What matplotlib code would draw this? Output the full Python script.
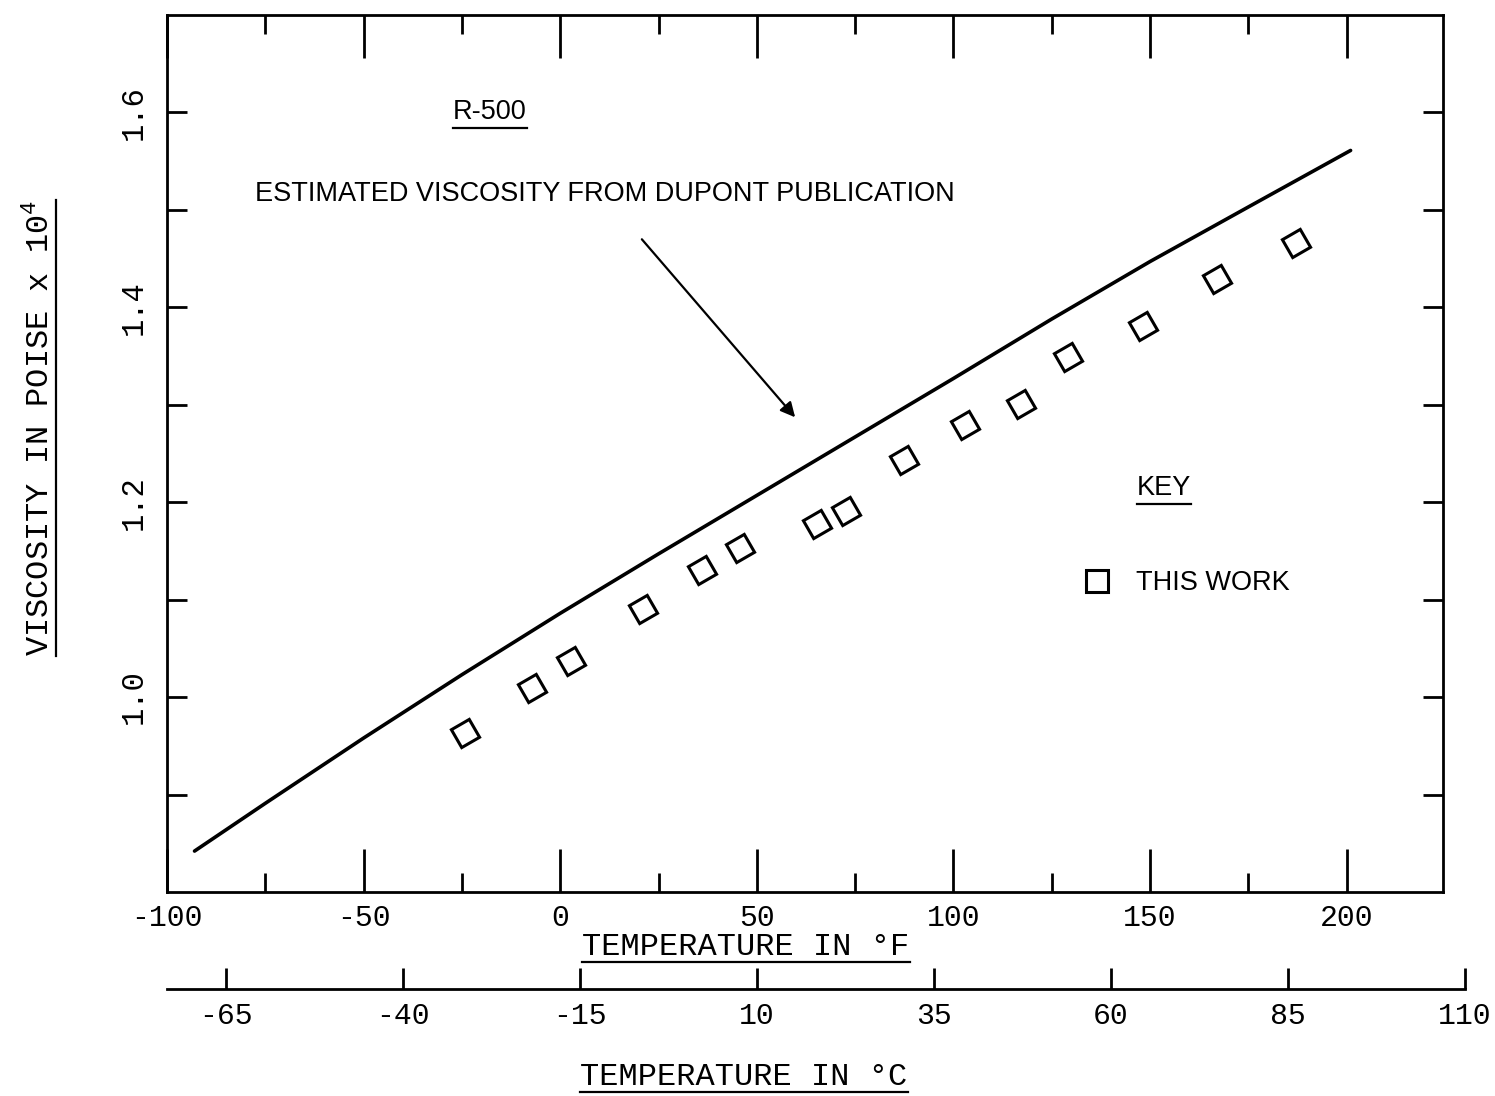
import matplotlib
matplotlib.use('Agg')
import matplotlib.pyplot as plt
from matplotlib.lines import Line2D
import numpy as np

plt.rcParams['font.family'] = ['Liberation Mono', 'DejaVu Sans Mono']
plt.rcParams['mathtext.fontset'] = 'custom'
plt.rcParams['mathtext.rm'] = 'Liberation Mono'
plt.rcParams['axes.unicode_minus'] = False

# --- data ---
# DuPont estimate, solid line
dupont_temp_f = [-93, -75, -50, -25, 0, 25, 50, 75, 100, 125, 150, 175, 201]
dupont_visc = [0.842, 0.891, 0.958, 1.023, 1.086, 1.147, 1.207, 1.267, 1.327, 1.388, 1.447, 1.503, 1.561]

# measured points ("this work")
work_temp_f = [-24.2, -7.2, 2.7, 21.0, 36.0, 45.7, 65.3, 72.6, 87.4, 102.9, 117.1, 129.1, 148.2, 167.0, 187.1]
work_visc = [0.963, 1.009, 1.037, 1.090, 1.130, 1.153, 1.178, 1.191, 1.243, 1.279, 1.301, 1.349, 1.381, 1.429, 1.466]

f_ticks = [-100, -50, 0, 50, 100, 150, 200]
f_tick_labels = ['-100', '-50', '0', '50', '100', '150', '200']
f_minor = [-75, -25, 25, 75, 125, 175]
visc_ticks = [0.9, 1.0, 1.1, 1.2, 1.3, 1.4, 1.5, 1.6]
visc_tick_labels = ['', '1.0', '', '1.2', '', '1.4', '', '1.6']
c_ticks = [-65, -40, -15, 10, 35, 60, 85, 110]
c_tick_labels = ['-65', '-40', '-15', '10', '35', '60', '85', '110']

narrow = ['Liberation Sans Narrow', 'Liberation Sans', 'DejaVu Sans']

W, H = 1495, 1096
fig = plt.figure(figsize=(W / 100, H / 100), dpi=100)
ax = fig.add_axes([167 / W, 1 - 892 / H, (1443 - 167) / W, (892 - 15) / H])

f_lo, f_hi = -100, 224.5
ax.set_xlim(f_lo, f_hi)
ax.set_ylim(0.8, 1.7)

ax.plot(dupont_temp_f, dupont_visc, color='black', lw=2.6, solid_capstyle='round')
ax.plot(work_temp_f, work_visc, linestyle='none', marker=(4, 0, 75), ms=21,
        mfc='none', mec='black', mew=2.2)

# axes frame and ticks
for s in ax.spines.values():
    s.set_linewidth(2)
ax.set_xticks(f_ticks)
ax.set_xticklabels(f_tick_labels)
ax.set_xticks(f_minor, minor=True)
ax.set_yticks(visc_ticks)
ax.set_yticklabels(visc_tick_labels)
ax.tick_params(axis='x', which='major', direction='in', length=31, width=2,
               top=True, labelsize=21.5, pad=9)
ax.tick_params(axis='x', which='minor', direction='in', length=14, width=2, top=True)
ax.tick_params(axis='y', direction='in', length=14.5, width=2, right=True,
               labelsize=22, labelrotation=90, pad=13)
for lab in ax.get_yticklabels():
    lab.set_va('center')

# annotations
t_r500 = ax.text(-17.9, 1.60, 'R-500', family=narrow, fontsize=19.5, ha='center', va='center')
ax.text(-77.5, 1.516, 'ESTIMATED VISCOSITY FROM DUPONT PUBLICATION', family=narrow,
        fontsize=19.5, ha='left', va='center')
ax.annotate('', xy=(60.2, 1.285), xytext=(20.3, 1.472),
            arrowprops=dict(arrowstyle='-|>', color='black', lw=1.6, mutation_scale=22))
t_key = ax.text(153.6, 1.215, 'KEY', family=narrow, fontsize=19.5, ha='center', va='center')

key_handle = Line2D([], [], linestyle='none', marker='s', ms=15.5, mfc='none',
                    mec='black', mew=2.2)
leg = ax.legend([key_handle], ['THIS WORK'], loc='center left',
                bbox_to_anchor=((1083 - 167) / 1276, (892 - 583) / 877),
                frameon=False, handlelength=1.0, handletextpad=0.95,
                borderpad=0, borderaxespad=0,
                prop={'family': narrow, 'size': 19.5})

# celsius scale, drawn as its own axis line below the plot
c_lo = (f_lo - 32) * 5 / 9
f_end = 110 * 9 / 5 + 32
pos = ax.get_position()
c_width = pos.width * (f_end - f_lo) / (f_hi - f_lo)
axc = fig.add_axes([pos.x0, 1 - 989 / H, c_width, 0.01])
axc.set_xlim(c_lo, 110)
axc.patch.set_visible(False)
for name in ['top', 'left', 'right']:
    axc.spines[name].set_visible(False)
axc.spines['bottom'].set_linewidth(2)
axc.set_yticks([])
axc.set_xticks(c_ticks)
axc.set_xticklabels(c_tick_labels)
axc.tick_params(axis='x', direction='in', length=15, width=2, labelsize=21.5, pad=9)

# axis titles
t_f = fig.text(746 / W, 1 - 947 / H, 'TEMPERATURE IN °F', fontsize=23, ha='center', va='center')
t_c = fig.text(744 / W, 1 - 1077 / H, 'TEMPERATURE IN °C', fontsize=23, ha='center', va='center')
t_y = fig.text(40 / W, 1 - 428 / H, 'VISCOSITY IN POISE x 10$^4$', fontsize=23,
               rotation=90, ha='center', va='center')

# underlines
fig.canvas.draw()
renderer = fig.canvas.get_renderer()


def underline(txt, gap=2, vertical=False):
    bb = txt.get_window_extent(renderer)
    if vertical:
        xs = [bb.x1 + gap, bb.x1 + gap]
        ys = [bb.y0, bb.y1]
    else:
        xs = [bb.x0, bb.x1]
        ys = [bb.y0 - gap, bb.y0 - gap]
    fig.add_artist(Line2D(np.array(xs) / W, np.array(ys) / H, transform=fig.transFigure,
                          color='black', lw=1.6))


underline(t_r500, gap=3)
underline(t_key, gap=3)
underline(t_f, gap=0)
underline(t_c, gap=0)
underline(t_y, gap=0, vertical=True)

fig.savefig('out.png', dpi=100)
